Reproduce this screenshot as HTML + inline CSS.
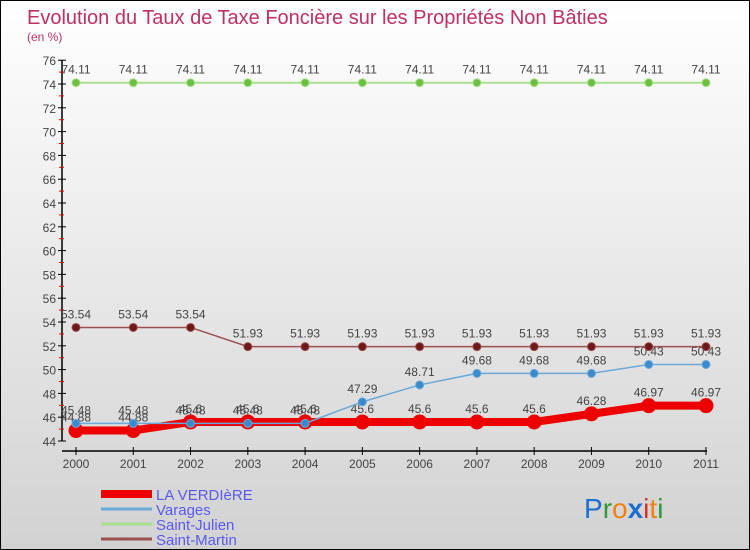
<!DOCTYPE html>
<html><head><meta charset="utf-8"><style>
body{margin:0;}
#c{width:750px;height:550px;box-sizing:border-box;border:1px solid #000;background:linear-gradient(#fff,#d2d2d2);position:relative;overflow:hidden;font-family:"Liberation Sans",sans-serif;}
svg{position:absolute;left:0;top:0;}
</style></head><body>
<div id="c">
<svg id="s" width="750" height="550" font-family="Liberation Sans,sans-serif">
<text x="26" y="23" font-size="20" fill="#c0305f">Evolution du Taux de Taxe Foncière sur les Propriétés Non Bâties</text>
<text x="26" y="40" font-size="12" fill="#c0305f">(en %)</text>
<g font-size="28" font-family="Liberation Sans,sans-serif">
<text x="583" y="517"><tspan fill="#1a6fd0">P</tspan><tspan fill="#2a9a3a">r</tspan><tspan fill="#f08010">o</tspan><tspan fill="#1a6fd0" font-weight="bold">x</tspan><tspan fill="#e03020">i</tspan><tspan fill="#f08010">t</tspan><tspan fill="#2a9a3a">i</tspan></text>
</g>
</svg>
</div>
<script>
const years=[2000,2001,2002,2003,2004,2005,2006,2007,2008,2009,2010,2011];
const yTicks=[44,46,48,50,52,54,56,58,60,62,64,66,68,70,72,74,76];
const verdiere=[44.88,44.88,45.6,45.6,45.6,45.6,45.6,45.6,45.6,46.28,46.97,46.97];
const varages=[45.48,45.48,45.48,45.48,45.48,47.29,48.71,49.68,49.68,49.68,50.43,50.43];
const julien=[74.11,74.11,74.11,74.11,74.11,74.11,74.11,74.11,74.11,74.11,74.11,74.11];
const martin=[53.54,53.54,53.54,51.93,51.93,51.93,51.93,51.93,51.93,51.93,51.93,51.93];
const s=document.getElementById('s');const NS='http://www.w3.org/2000/svg';
function X(i){return 75+i*(705-75)/(years.length-1);}
function Y(v){return 440-(v-44)*11.9;}
function mk(t,a,p){const e=document.createElementNS(NS,t);for(const k in a)e.setAttribute(k,a[k]);(p||s).appendChild(e);return e;}
const ax=mk('g',{});


mk('line',{x1:61,y1:Y(76),x2:61,y2:Y(44),stroke:'#000','stroke-width':1.5},ax);
mk('line',{x1:61,y1:450,x2:706,y2:450,stroke:'#000','stroke-width':1.5},ax);
yTicks.forEach(v=>{mk('line',{x1:57,y1:Y(v),x2:65,y2:Y(v),stroke:'#000'},ax);
 if(v<76)mk('line',{x1:58,y1:Y(v+1),x2:63,y2:Y(v+1),stroke:'#e00'},ax);
 const t=mk('text',{x:55,y:Y(v)+5,'text-anchor':'end','font-size':12,fill:'#444'},ax);t.textContent=v;
 
 });
years.forEach((y,i)=>{mk('line',{x1:X(i),y1:446,x2:X(i),y2:454,stroke:'#000'},ax);
 const t=mk('text',{x:X(i),y:467,'text-anchor':'middle','font-size':12,fill:'#444'},ax);t.textContent=y;
 
 });
function series(d,name,color,w,r,dot){const g=mk('g',{});
 
 
 mk('polyline',{points:d.map((v,i)=>X(i)+','+Y(v)).join(' '),fill:'none',stroke:color,'stroke-width':w},g);
 d.forEach((v,i)=>{const c=mk('circle',{cx:X(i),cy:Y(v),r:r,fill:dot,stroke:color,'stroke-width':1},g);
  
  
  const t=mk('text',{x:X(i),y:Y(v)-9,'text-anchor':'middle','font-size':12,fill:'#444'},g);t.textContent=v;});}
series(verdiere,'series-la-verdiere','#e00',8,7,'#e00');
series(varages,'series-varages','#6aa8d8',1.5,4,'#3a8ad0');
series(julien,'series-saint-julien','#a8e090',2,4,'#6cc040');
series(martin,'series-saint-martin','#9a5050',1.5,4,'#701818');
const leg=[['LA VERDIèRE','#e00',8],['Varages','#6aa8d8',3],['Saint-Julien','#a8e090',3],['Saint-Martin','#9a5050',3]];
leg.forEach((l,i)=>{const g=mk('g',{});
 
 
 const y=493+i*15;
 mk('line',{x1:100,y1:y,x2:151,y2:y,stroke:l[1],'stroke-width':l[2]},g);
 const t=mk('text',{x:155,y:y+6,'font-size':15,fill:'#5a5af0'},g);t.textContent=l[0];});
</script>
</body></html>
